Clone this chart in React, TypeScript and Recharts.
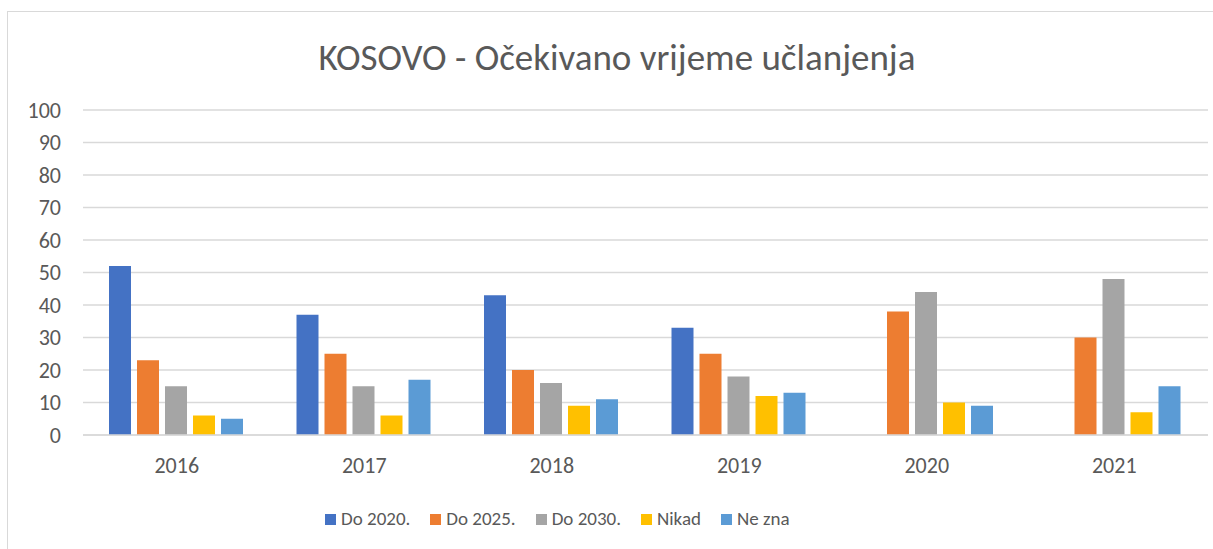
import React from "react";
import { BarChart, Bar, XAxis, YAxis, CartesianGrid } from "recharts";

const years = ["2016", "2017", "2018", "2019", "2020", "2021"];
const do2020: (number | null)[] = [52, 37, 43, 33, null, null];
const do2025 = [23, 25, 20, 25, 38, 30];
const do2030 = [15, 15, 16, 18, 44, 48];
const nikad = [6, 6, 9, 12, 10, 7];
const neZna = [5, 17, 11, 13, 9, 15];
const yTicks = [0, 10, 20, 30, 40, 50, 60, 70, 80, 90, 100];

const seriesNames = ["Do 2020.", "Do 2025.", "Do 2030.", "Nikad", "Ne zna"];
const colors = ["#4472C4", "#ED7D31", "#A5A5A5", "#FFC000", "#5B9BD5"];
const keys = ["a", "b", "c", "d", "e"];

const data = years.map((y, i) => ({
  year: y,
  a: do2020[i],
  b: do2025[i],
  c: do2030[i],
  d: nikad[i],
  e: neZna[i],
}));

const FONT = "Carlito, Calibri, 'Open Sans', 'Liberation Sans', sans-serif";

export default function App() {
  return (
    <div style={{ position: "absolute", left: 0, top: 0, width: 1213, height: 549, background: "#fff", overflow: "hidden" }}>
      <div style={{ position: "absolute", left: 7, top: 11, width: 1220, height: 560, border: "1px solid #d9d9d9" }} />
      <div style={{ position: "absolute", left: 0, top: 35, width: 1234, textAlign: "center", fontFamily: FONT, fontSize: 37, lineHeight: "46px", color: "#595959" }}>
        KOSOVO - Očekivano vrijeme učlanjenja
      </div>
      <div style={{ position: "absolute", left: 0, top: 0 }}>
        <BarChart
          width={1213}
          height={549}
          data={data}
          margin={{ top: 110, right: 5, bottom: 84, left: 0 }}
          barCategoryGap={26}
          barGap={6}
        >
          <CartesianGrid vertical={false} stroke="#d9d9d9" strokeWidth={1.5} />
          <XAxis
            dataKey="year"
            axisLine={{ stroke: "#d9d9d9", strokeWidth: 1.5 }}
            tickLine={false}
            tick={{ fill: "#595959", fontSize: 22, fontFamily: FONT }}
            tickMargin={16}
          />
          <YAxis
            domain={[0, 100]}
            ticks={yTicks}
            width={83}
            axisLine={false}
            tickLine={false}
            tick={{ fill: "#595959", fontSize: 22, fontFamily: FONT }}
            tickMargin={16}
            interval={0}
          />
          {keys.map((k, i) => (
            <Bar key={k} dataKey={k} name={seriesNames[i]} fill={colors[i]} isAnimationActive={false} />
          ))}
        </BarChart>
      </div>
      <div style={{ position: "absolute", left: 325, top: 507, display: "flex", alignItems: "center", fontFamily: FONT, fontSize: 19, lineHeight: "24px", color: "#595959" }}>
        {seriesNames.map((n, i) => (
          <div key={n} style={{ display: "flex", alignItems: "center", marginRight: i < 4 ? 20 : 0 }}>
            <span style={{ display: "inline-block", width: 11, height: 11, background: colors[i], marginRight: 5 }} />
            <span>{n}</span>
          </div>
        ))}
      </div>
    </div>
  );
}
